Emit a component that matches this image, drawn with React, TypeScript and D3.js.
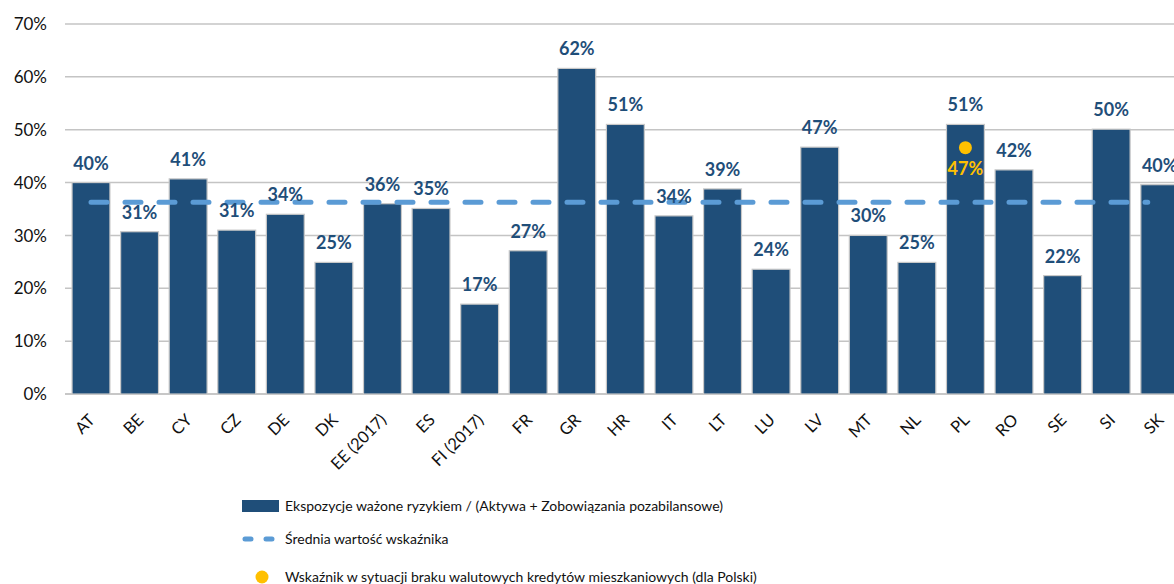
import React from "react";
import * as d3 from "d3";

// Risk-weighted exposures / (assets + off-balance-sheet liabilities), by country
const countries = [
  "AT", "BE", "CY", "CZ", "DE", "DK", "EE (2017)", "ES", "FI (2017)", "FR", "GR", "HR",
  "IT", "LT", "LU", "LV", "MT", "NL", "PL", "RO", "SE", "SI", "SK",
];
const ratios = [
  40.0, 30.7, 40.7, 31.0, 34.0, 24.9, 36.0, 35.1, 17.0, 27.1, 61.6, 51.0,
  33.7, 38.8, 23.6, 46.7, 30.0, 24.9, 51.0, 42.4, 22.4, 50.1, 39.6,
];
const averageRatio = 36.3;
// Poland without foreign-currency housing loans
const plAltCountry = "PL";
const plAltRatio = 46.6;

const yTicks = [0, 10, 20, 30, 40, 50, 60, 70];

const legendLabels = [
  "Ekspozycje ważone ryzykiem / (Aktywa + Zobowiązania pozabilansowe)",
  "Średnia wartość wskaźnika",
  "Wskaźnik w sytuacji braku walutowych kredytów mieszkaniowych (dla Polski)",
];

const W = 1174;
const H = 584;
const BAR = "#1f4e79";
const AVG = "#5b9bd5";
const GOLD = "#ffc000";
const FONT = "Lato, 'Open Sans', sans-serif";

export default function App() {
  const x = d3
    .scaleBand<string>()
    .domain(countries)
    .range([66.7, 66.7 + countries.length * 48.58])
    .paddingInner(0.22)
    .paddingOuter(0.11);
  const y = d3.scaleLinear().domain([0, 70]).range([394, 24]);
  const cx = (c: string) => (x(c) ?? 0) + x.bandwidth() / 2;
  const pct = (v: number) => `${Math.round(v)}%`;

  const avgLine = d3.line<number>()(
    [cx(countries[0]), cx(countries[countries.length - 1]) - 12].map((px) => [px, y(averageRatio)]) as any
  );

  return (
    <svg
      width={W}
      height={H}
      style={{ position: "absolute", left: 0, top: 0, background: "#fff" }}
      fontFamily={FONT}
    >
      {/* gridlines */}
      {yTicks.map((t) => (
        <line key={t} x1={65} x2={W} y1={y(t)} y2={y(t)} stroke={t === 0 ? "#b4b4b4" : "#c4c4c4"} strokeWidth={1.5} />
      ))}
      {/* y axis labels */}
      {yTicks.map((t) => (
        <text key={t} x={47} y={y(t)} dy="0.36em" textAnchor="end" fontSize={17} fill="#111">
          {`${t}%`}
        </text>
      ))}
      {/* bars */}
      {countries.map((c, i) => (
        <rect
          key={c}
          x={x(c)}
          y={y(ratios[i])}
          width={x.bandwidth()}
          height={y(0) - y(ratios[i])}
          fill={BAR}
          stroke="#c8c8c8"
          strokeWidth={1.2}
        />
      ))}
      {/* average */}
      <path
        d={avgLine ?? ""}
        stroke={AVG}
        strokeWidth={5}
        strokeDasharray="16 18"
        strokeLinecap="round"
        fill="none"
      />
      {/* value labels */}
      {countries.map((c, i) => (
        <text
          key={c}
          x={cx(c)}
          y={y(ratios[i]) - 13}
          textAnchor="middle"
          fontSize={18}
          fontWeight={700}
          fill={BAR}
        >
          {pct(ratios[i])}
        </text>
      ))}
      {/* Poland alternative */}
      <circle cx={cx(plAltCountry)} cy={y(plAltRatio)} r={6.5} fill={GOLD} />
      <text
        x={cx(plAltCountry)}
        y={y(plAltRatio) + 27}
        textAnchor="middle"
        fontSize={18}
        fontWeight={700}
        fill={GOLD}
      >
        {pct(plAltRatio)}
      </text>
      {/* x axis labels */}
      {countries.map((c) => (
        <text
          key={c}
          transform={`translate(${cx(c) + 5},421) rotate(-45)`}
          textAnchor="end"
          fontSize={16.5}
          fill="#111"
        >
          {c}
        </text>
      ))}
      {/* legend */}
      <g fontSize={14} fill="#111">
        <rect x={242} y={500} width={37} height={12} fill={BAR} />
        <text x={285} y={511}>{legendLabels[0]}</text>
        <line x1={245} x2={277} y1={539} y2={539} stroke={AVG} strokeWidth={5} strokeDasharray="6 15" strokeLinecap="round" />
        <text x={285} y={544}>{legendLabels[1]}</text>
        <circle cx={262} cy={577} r={6.5} fill={GOLD} />
        <text x={285} y={582}>{legendLabels[2]}</text>
      </g>
    </svg>
  );
}
